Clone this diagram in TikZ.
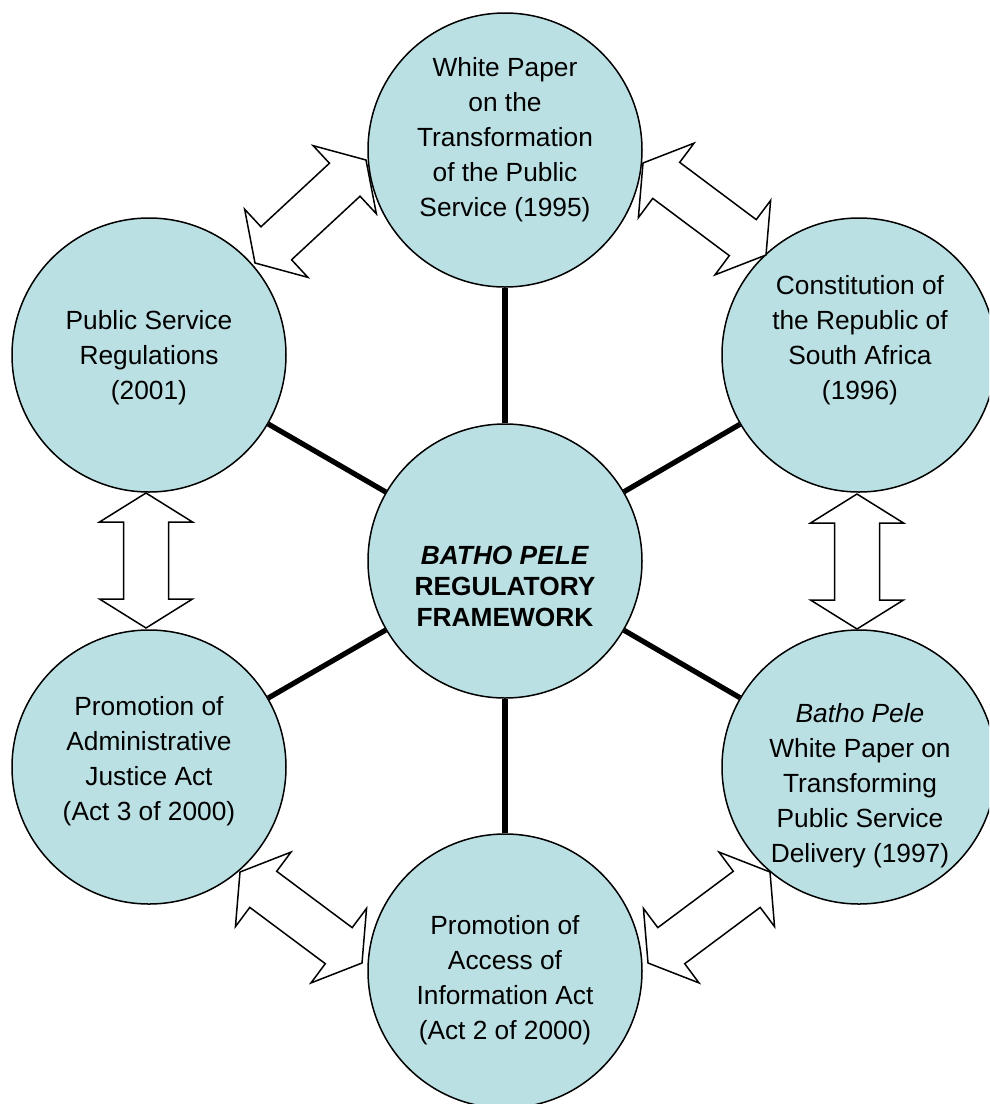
\documentclass[tikz,border=0pt]{standalone}
\usepackage{fontspec}
\setmainfont{Liberation Sans}
\usetikzlibrary{calc}

\definecolor{discfill}{RGB}{187,224,227}

\tikzset{
  disc/.style={circle, draw=black, line width=1.5pt, fill=discfill,
               minimum size=274pt, inner sep=0pt},
  lbl/.style={align=center, inner sep=0pt,
              font=\fontsize{26.3}{35}\selectfont},
  corelbl/.style={align=center, inner sep=0pt,
              font=\bfseries\fontsize{26.3}{31}\selectfont},
  spoke/.style={draw=black, line width=5.2pt},
  barrow/.style={draw=black, fill=white, line width=1.5pt, line join=miter},
}

% hollow block arrow with a head at both ends, from tip #1 to tip #2
\def\arrHead{29pt}
\def\arrWing{46.5pt}
\def\arrShaft{22.5pt}
\newcommand{\dblblock}[2]{%
  \filldraw[barrow] (#1)
    -- ($(#1)!\arrHead!(#2)!\arrWing!90:(#2)$)
    -- ($(#1)!\arrHead!(#2)!\arrShaft!90:(#2)$)
    -- ($(#2)!\arrHead!(#1)!\arrShaft!-90:(#1)$)
    -- ($(#2)!\arrHead!(#1)!\arrWing!-90:(#1)$)
    -- (#2)
    -- ($(#2)!\arrHead!(#1)!\arrWing!90:(#1)$)
    -- ($(#2)!\arrHead!(#1)!\arrShaft!90:(#1)$)
    -- ($(#1)!\arrHead!(#2)!\arrShaft!-90:(#2)$)
    -- ($(#1)!\arrHead!(#2)!\arrWing!-90:(#2)$)
    -- cycle;}

\begin{document}
\begin{tikzpicture}[x=1pt,y=-1pt]
  \useasboundingbox (0,0) rectangle (989,1104);
  \clip (0,0) rectangle (989,1104);

  % circles
  \node[disc] (core)  at (505,561) {};
  \node[disc] (wp95)  at (505,150) {};
  \node[disc] (const) at (859,355) {};
  \node[disc] (psr)   at (149,355) {};
  \node[disc] (paja)  at (149,767) {};
  \node[disc] (bp97)  at (859,767) {};
  \node[disc] (paia)  at (505,971) {};

  % spokes from the centre
  \foreach \o in {wp95,const,bp97,paia,paja,psr}
    \draw[spoke] (core) -- (\o);

  % texts
  \node[corelbl] (tcore) at (505,586)
    {\textit{BATHO PELE}\\REGULATORY\\FRAMEWORK};
  \node[lbl] (twp95) at (505,140)
    {White Paper\\on the\\Transformation\\of the Public\\Service (1995)};
  \node[lbl] (tconst) at (860,340)
    {Constitution of\\the Republic of\\South Africa\\(1996)};
  \node[lbl] (tpsr) at (149,358)
    {Public Service\\Regulations\\(2001)};
  \node[lbl] (tpaja) at (149,761)
    {Promotion of\\Administrative\\Justice Act\\(Act 3 of 2000)};
  \node[lbl] (tbp97) at (860,786)
    {\textit{Batho Pele}\\White Paper on\\Transforming\\Public Service\\Delivery (1997)};
  \node[lbl] (tpaia) at (505,980)
    {Promotion of\\Access of\\Information Act\\(Act 2 of 2000)};

  % ends of the double block arrows
  \coordinate (a1) at (366,160); \coordinate (b1) at (255,263);
  \coordinate (a2) at (643,163); \coordinate (b2) at (766,255);
  \coordinate (a3) at (857,494); \coordinate (b3) at (857,629);
  \coordinate (a4) at (770,872); \coordinate (b4) at (648,963);
  \coordinate (a5) at (362,963); \coordinate (b5) at (240,872);
  \coordinate (a6) at (146,628); \coordinate (b6) at (146,493);

  \dblblock{a1}{b1}
  \dblblock{a2}{b2}
  \dblblock{a3}{b3}
  \dblblock{a4}{b4}
  \dblblock{a5}{b5}
  \dblblock{a6}{b6}
\end{tikzpicture}
\end{document}
